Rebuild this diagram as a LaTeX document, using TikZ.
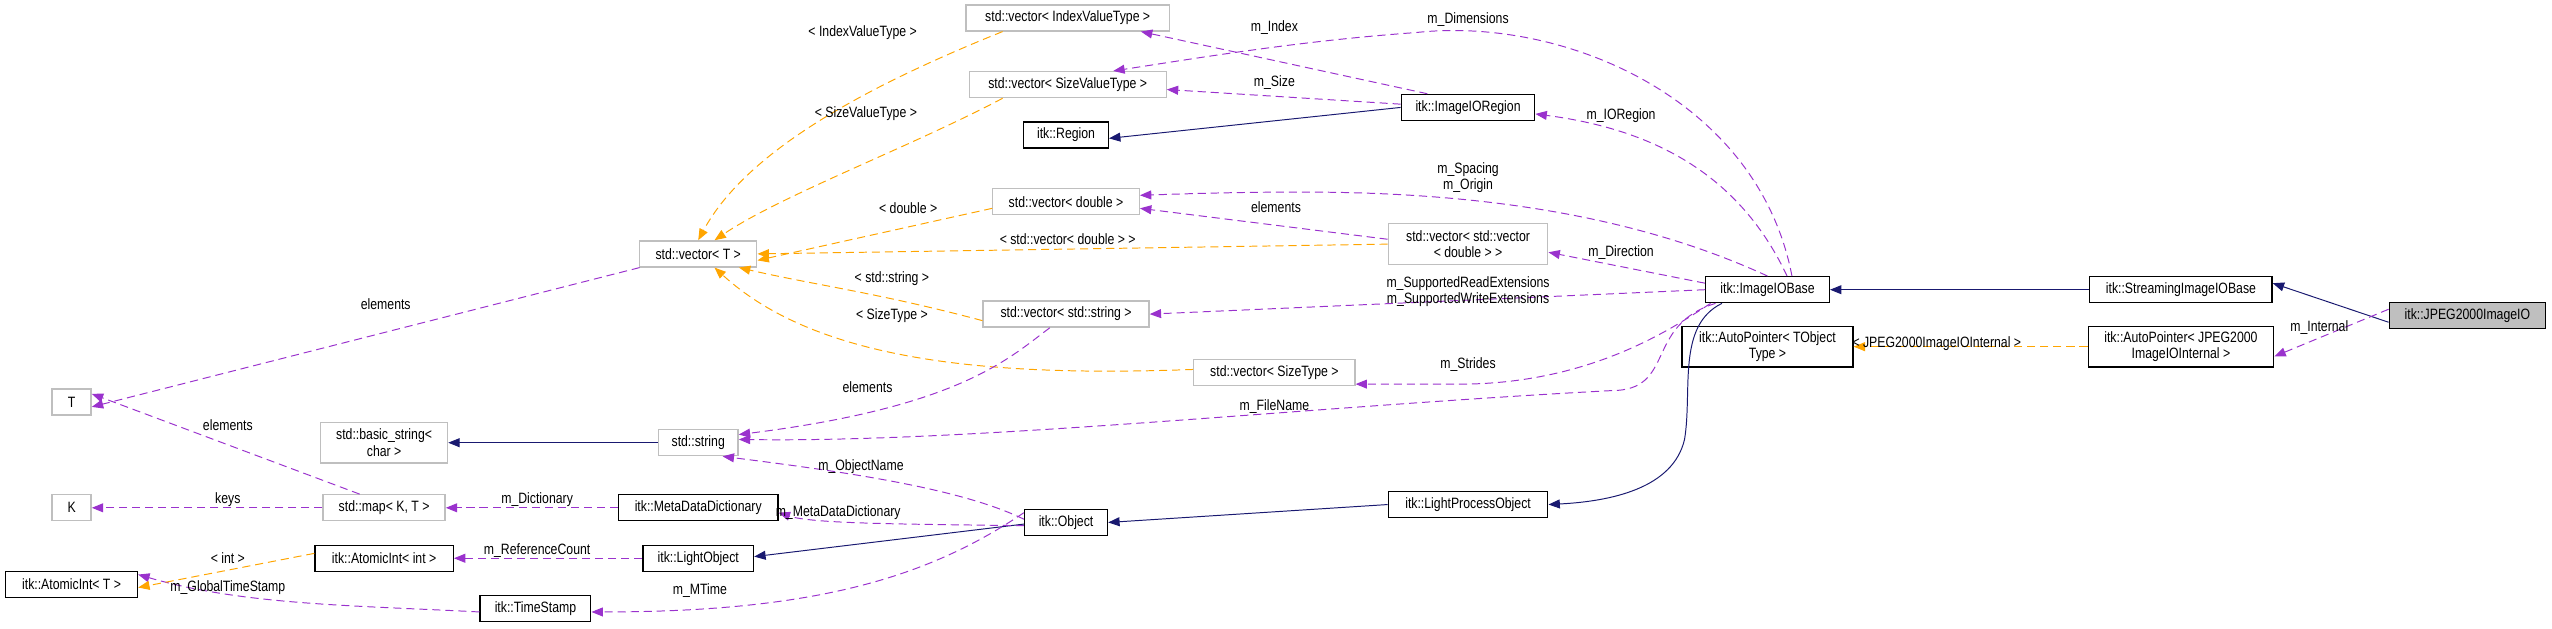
\documentclass[tikz,border=0pt]{standalone}
\usepackage{fontspec}
\setmainfont{Liberation Sans}[FakeStretch=0.82]
\usetikzlibrary{arrows.meta}
\definecolor{pur}{HTML}{9A32CD}
\definecolor{org}{HTML}{FFA500}
\definecolor{nav}{HTML}{191970}
\begin{document}
\begin{tikzpicture}[x=1pt,y=-1pt,
  font=\fontsize{9.2}{10}\selectfont,
  box/.style={draw=black,thick,fill=white,inner sep=1pt,minimum height=16pt,align=center},
  gbox/.style={draw=black!25,thick,fill=white,inner sep=1pt,minimum height=16pt,align=center},
  lab/.style={inner sep=0pt,align=center},
  mem/.style={-{Triangle[length=7pt,width=5.5pt,fill=pur]},draw=pur,dash pattern=on 5pt off 3pt,semithick},
  tpl/.style={-{Triangle[length=7pt,width=5.5pt,fill=org]},draw=org,dash pattern=on 5pt off 3pt,semithick},
  inh/.style={-{Triangle[length=7pt,width=5.5pt,fill=nav]},draw=nav,semithick}]
\useasboundingbox (0,0) rectangle (1568,386);
% nodes
\node[gbox,minimum width=125pt] (vIdx) at (656,11) {std::vector< IndexValueType >};
\node[gbox,minimum width=121pt] (vSz) at (656,52) {std::vector< SizeValueType >};
\node[box,minimum width=52pt] (reg) at (655,83) {itk::Region};
\node[box,minimum width=82pt] (ioreg) at (902,66) {itk::ImageIORegion};
\node[gbox,minimum width=72pt] (vT) at (429,156) {std::vector< T >};
\node[gbox,minimum width=90pt] (vD) at (655,124) {std::vector< double >};
\node[gbox,minimum width=98pt,minimum height=25pt] (vv) at (902,150) {std::vector< std::vector\\< double > >};
\node[gbox,minimum width=102pt] (vS) at (655,193) {std::vector< std::string >};
\node[gbox,minimum width=99pt] (vST) at (783,229) {std::vector< SizeType >};
\node[box,minimum width=76pt] (iob) at (1086,178) {itk::ImageIOBase};
\node[box,minimum width=112pt] (sib) at (1340,178) {itk::StreamingImageIOBase};
\node[box,minimum width=96pt,fill=black!25] (jp) at (1516,194) {itk::JPEG2000ImageIO};
\node[box,minimum width=105pt,minimum height=25pt] (apT) at (1086,213) {itk::AutoPointer< TObject\\Type >};
\node[box,minimum width=114pt,minimum height=25pt] (apJ) at (1340,213) {itk::AutoPointer< JPEG2000\\ImageIOInternal >};
\node[gbox,minimum width=24pt] (T) at (44,247) {T};
\node[gbox,minimum width=78pt,minimum height=25pt] (bs) at (236,272) {std::basic\_string<\\char >};
\node[gbox,minimum width=49pt] (str) at (429,272) {std::string};
\node[gbox,minimum width=24pt] (K) at (44,312) {K};
\node[gbox,minimum width=75pt] (map) at (236,312) {std::map< K, T >};
\node[box,minimum width=98pt] (mdd) at (429,312) {itk::MetaDataDictionary};
\node[box,minimum width=98pt] (lpo) at (902,310) {itk::LightProcessObject};
\node[box,minimum width=51pt] (obj) at (655,321) {itk::Object};
\node[box,minimum width=85pt] (ai) at (236,343) {itk::AtomicInt< int >};
\node[box,minimum width=68pt] (lo) at (429,343) {itk::LightObject};
\node[box,minimum width=81pt] (aT) at (44,359) {itk::AtomicInt< T >};
\node[box,minimum width=68pt] (ts) at (329,374) {itk::TimeStamp};
% inheritance
\draw[inh] (ioreg.west) -- ([yshift=-2pt]reg.east);
\draw[inh] (sib.west) -- (iob.east);
\draw[inh] ([yshift=-4pt]jp.west) -- ([yshift=4pt]sib.east);
\draw[inh] ([xshift=-28pt]iob.south) .. controls (1030,200) and (1040,240) .. (1035,270) .. controls (1028,300) and (990,308) .. (lpo.east);
\draw[inh] (lpo.west) -- (obj.east);
\draw[inh] ([yshift=-1pt]obj.west) -- ([yshift=1pt]lo.east);
\draw[inh] (str.west) -- (bs.east);
% templates
\draw[tpl] ([xshift=-40pt]vIdx.south) .. controls (540,50) and (460,90) .. ([xshift=0pt]vT.north);
\draw[tpl] ([xshift=-40pt]vSz.south) .. controls (560,90) and (480,120) .. ([xshift=10pt]vT.north);
\draw[tpl] ([yshift=-4pt]vD.west) -- ([yshift=-4pt]vT.east);
\draw[tpl] (vv.west) -- (vT.east);
\draw[tpl] ([yshift=-4pt]vS.west) .. controls (540,180) and (500,175) .. ([xshift=25pt]vT.south);
\draw[tpl] ([yshift=2pt]vST.west) .. controls (600,232) and (500,220) .. ([xshift=10pt]vT.south);
\draw[tpl] (apJ.west) -- (apT.east);
% members
\draw[mem] ([xshift=-25pt]ioreg.north) -- ([xshift=45pt]vIdx.south);
\draw[mem] ([xshift=15pt]iob.north) .. controls (1080,60) and (960,10) .. (870,20) .. controls (800,25) and (740,35) .. ([xshift=28pt]vSz.north);
\draw[mem] ([yshift=2pt]ioreg.west) -- ([yshift=-3pt]vSz.east);
\draw[mem] ([xshift=12pt]iob.north) .. controls (1070,110) and (1020,80) .. ([yshift=-4pt]ioreg.east);
\draw[mem] ([xshift=0pt]iob.north) .. controls (1000,130) and (900,118) .. (800,118) .. controls (760,118) and (730,119) .. ([yshift=4pt]vD.east);
\draw[mem] ([yshift=3pt]vv.west) -- ([yshift=-4pt]vD.east);
\draw[mem] ([yshift=4pt]iob.west) -- ([yshift=-5pt]vv.east);
\draw[mem] (iob.west) -- (vS.east);
\draw[mem] ([xshift=-35pt]iob.south) .. controls (1030,200) and (980,235) .. (900,236) .. controls (870,236) and (850,236) .. ([yshift=-7pt]vST.east);
\draw[mem] ([xshift=-32pt]iob.south) .. controls (1010,200) and (1030,240) .. (990,240) .. controls (800,250) and (600,272) .. ([yshift=2pt]str.east);
\draw[mem] ([xshift=-10pt]vS.south) .. controls (620,220) and (590,250) .. ([yshift=5pt]str.east);
\draw[mem] ([yshift=2pt]obj.west) .. controls (590,300) and (520,290) .. ([xshift=15pt]str.south);
\draw[mem] ([yshift=-2pt]obj.west) .. controls (560,322) and (500,322) .. ([yshift=-3pt]mdd.east);
\draw[mem] ([yshift=6pt]obj.west) .. controls (570,355) and (500,376) .. ([yshift=-2pt]ts.east);
\draw[mem] ([xshift=-36pt]vT.south) -- ([yshift=-3pt]T.east);
\draw[mem] ([xshift=-15pt]map.north) -- ([yshift=5pt]T.east);
\draw[mem] (map.west) -- (K.east);
\draw[mem] (mdd.west) -- (map.east);
\draw[mem] (lo.west) -- (ai.east);
\draw[mem] ([yshift=-2pt]ts.west) .. controls (220,372) and (150,372) .. ([yshift=6pt]aT.east);
\draw[tpl] ([yshift=3pt]ai.west) -- ([yshift=-2pt]aT.east);
\draw[mem] ([yshift=4pt]jp.west) -- ([yshift=-6pt]apJ.east);
% labels
\node[lab] (l1) at (783,17) {m\_Index};
\node[lab] (l2) at (902,12) {m\_Dimensions};
\node[lab] (l3) at (783,51) {m\_Size};
\node[lab] (l4) at (996,71) {m\_IORegion};
\node[lab] (l5) at (902,109) {m\_Spacing\\m\_Origin};
\node[lab] (l6) at (784,127) {elements};
\node[lab] (l7) at (996,155) {m\_Direction};
\node[lab] (l8) at (902,179) {m\_SupportedReadExtensions\\m\_SupportedWriteExtensions};
\node[lab] (l9) at (902,224) {m\_Strides};
\node[lab] (l10) at (783,250) {m\_FileName};
\node[lab] (l11) at (529,287) {m\_ObjectName};
\node[lab] (l12) at (515,315) {m\_MetaDataDictionary};
\node[lab] (l13) at (533,238) {elements};
\node[lab] (l14) at (237,187) {elements};
\node[lab] (l15) at (140,261) {elements};
\node[lab] (l16) at (140,307) {keys};
\node[lab] (l17) at (330,307) {m\_Dictionary};
\node[lab] (l18) at (330,338) {m\_ReferenceCount};
\node[lab] (l19) at (140,361) {m\_GlobalTimeStamp};
\node[lab] (l20) at (430,363) {m\_MTime};
\node[lab] (l21) at (140,343) {< int >};
\node[lab] (l22) at (1425,201) {m\_Internal};
\node[lab] (o1) at (530,20) {< IndexValueType >};
\node[lab] (o2) at (532,70) {< SizeValueType >};
\node[lab] (o3) at (558,128) {< double >};
\node[lab] (o4) at (656,147) {< std::vector< double > >};
\node[lab] (o5) at (548,171) {< std::string >};
\node[lab] (o6) at (548,194) {< SizeType >};
\node[lab] (o7) at (1190,211) {< JPEG2000ImageIOInternal >};
\end{tikzpicture}
\end{document}
